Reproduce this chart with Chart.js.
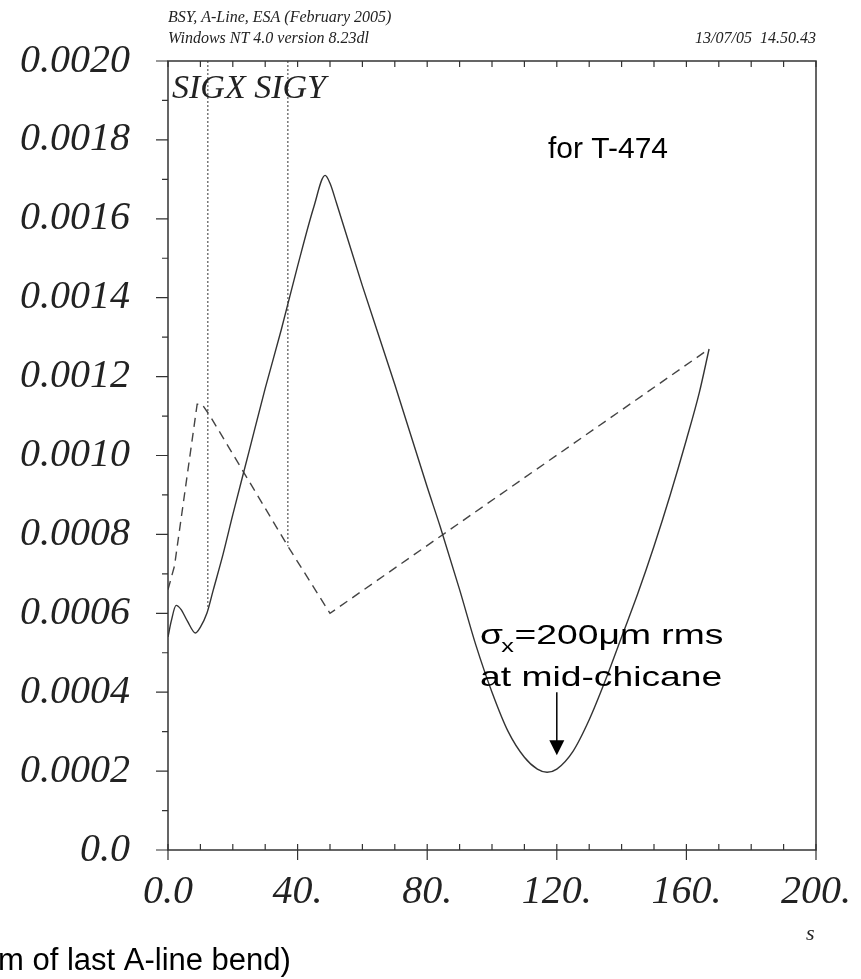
<!DOCTYPE html>
<html>
<head>
<meta charset="utf-8">
<script src="https://cdn.jsdelivr.net/npm/chart.js@4"></script>
<style>
  html, body { margin: 0; padding: 0; background: #fff; }
  #wrap { width: 861px; height: 979px; }
</style>
</head>
<body>
<div id="wrap"><canvas id="myChart" width="861" height="979"></canvas></div>
<script>
// SIGX (solid) and SIGY (dashed) vs s
const sigxS = [0, 1, 2.5, 4, 6, 8.5, 10, 12, 14, 17, 20, 25, 30, 35, 40, 45, 48.5, 50, 52, 60, 70, 80, 84, 90, 95, 100, 105, 110, 114, 117, 120, 125, 130, 135, 140, 145, 150, 155, 160, 164, 167];
const sigxV = [0.00054, 0.00058, 0.00062, 0.00061, 0.00058, 0.00055, 0.000565, 0.0006, 0.00066, 0.00075, 0.00085, 0.00101, 0.00117, 0.00132, 0.00148, 0.00163, 0.00171, 0.00169, 0.00164, 0.00143, 0.00118, 0.00092, 0.00082, 0.00066, 0.00052, 0.0004, 0.0003, 0.000235, 0.000205, 0.000197, 0.000205, 0.00025, 0.00033, 0.00043, 0.00054, 0.00065, 0.00077, 0.0009, 0.00104, 0.00116, 0.00127];

const sigyS = [0, 2, 9, 10.5, 13, 37, 50, 167];
const sigyV = [0.00066, 0.00072, 0.00113, 0.00113, 0.0011, 0.00077, 0.0006, 0.00127];

// vertical marker lines under the SIGX / SIGY labels
const markS = [12.3, 37];
const markV = [0.00061, 0.00077];

const yTicks = ['0.0', '0.0002', '0.0004', '0.0006', '0.0008', '0.0010', '0.0012', '0.0014', '0.0016', '0.0018', '0.0020'];
const xTicks = ['0.0', '40.', '80.', '120.', '160.', '200.'];

const toPts = (xs, ys) => xs.map((x, i) => ({x: x, y: ys[i]}));

const framePlugin = {
  id: 'frame',
  afterDraw(chart) {
    const c = chart.ctx, a = chart.chartArea;
    const xs = chart.scales.x, ys = chart.scales.y;
    c.save();
    c.strokeStyle = '#333';
    c.lineWidth = 1.5;
    c.strokeRect(a.left, a.top, a.right - a.left, a.bottom - a.top);
    c.lineWidth = 1.2;
    c.beginPath();
    for (let i = 0; i <= 20; i++) {
      const py = ys.getPixelForValue(i * 0.0001);
      const len = i % 2 === 0 ? 12 : 6;
      c.moveTo(a.left - len, py); c.lineTo(a.left, py);
    }
    for (let i = 0; i <= 20; i++) {
      const px = xs.getPixelForValue(i * 10);
      c.moveTo(px, a.top); c.lineTo(px, a.top + 6);
      c.moveTo(px, a.bottom); c.lineTo(px, a.bottom - 6);
      if (i % 4 === 0) { c.moveTo(px, a.bottom); c.lineTo(px, a.bottom + 10); }
    }
    c.stroke();

    // header
    c.fillStyle = '#222';
    c.font = 'italic 16px "Liberation Serif"';
    c.textBaseline = 'alphabetic';
    c.textAlign = 'left';
    c.fillText('BSY, A-Line, ESA (February 2005)', a.left, 22);
    c.fillText('Windows NT 4.0 version 8.23dl', a.left, 43);
    c.textAlign = 'right';
    c.fillText('13/07/05  14.50.43', a.right, 43);

    // curve labels
    c.textAlign = 'left';
    c.font = 'italic 34px "Liberation Serif"';
    c.fillText('SIGX SIGY', a.left + 4, a.top + 37);

    c.fillStyle = '#000';
    c.font = '30px "Liberation Sans"';
    c.fillText('for T-474', 548, 158);

    // annotation (text is wide in the original)
    c.save();
    c.translate(480, 0);
    c.scale(1.33, 1);
    c.textAlign = 'left';
    c.font = '28px "Liberation Sans"';
    c.fillText('\u03c3', 0, 644);
    c.font = '19px "Liberation Sans"';
    c.fillText('x', 16, 652);
    c.font = '28px "Liberation Sans"';
    c.fillText('=200\u03bcm rms', 26, 644);
    c.fillText('at mid-chicane', 0, 686);
    c.restore();

    const ax = xs.getPixelForValue(120);
    const y0 = ys.getPixelForValue(0.00040), y1 = ys.getPixelForValue(0.00024);
    c.strokeStyle = '#000';
    c.lineWidth = 1.5;
    c.beginPath(); c.moveTo(ax, y0); c.lineTo(ax, y1 - 14); c.stroke();
    c.beginPath();
    c.moveTo(ax - 7.5, y1 - 15); c.lineTo(ax + 7.5, y1 - 15); c.lineTo(ax, y1); c.closePath();
    c.fill();

    // axis title and caption
    c.fillStyle = '#222';
    c.font = 'italic 22px "Liberation Serif"';
    c.fillText('s', a.right - 10, 940);
    c.fillStyle = '#000';
    c.font = '31px "Liberation Sans"';
    c.textAlign = 'left';
    c.fillText('m of last A-line bend)', -2, 970);
    c.restore();
  }
};

const config = {
  type: 'scatter',
  data: {
    datasets: [
      {
        label: 'SIGX',
        data: toPts(sigxS, sigxV),
        showLine: true,
        borderColor: '#333',
        borderWidth: 1.4,
        pointRadius: 0,
        cubicInterpolationMode: 'monotone'
      },
      {
        label: 'SIGY',
        data: toPts(sigyS, sigyV),
        showLine: true,
        borderColor: '#444',
        borderWidth: 1.4,
        borderDash: [9, 6],
        pointRadius: 0,
        tension: 0
      },
      {
        label: 'mark1',
        data: [{x: markS[0], y: 0.002}, {x: markS[0], y: markV[0]}],
        showLine: true,
        borderColor: '#333',
        borderWidth: 1,
        borderDash: [2, 2],
        pointRadius: 0
      },
      {
        label: 'mark2',
        data: [{x: markS[1], y: 0.002}, {x: markS[1], y: markV[1]}],
        showLine: true,
        borderColor: '#333',
        borderWidth: 1,
        borderDash: [2, 2],
        pointRadius: 0
      }
    ]
  },
  options: {
    responsive: false,
    animation: false,
    layout: { padding: { left: 0, top: 61, right: 45, bottom: 0 } },
    plugins: { legend: { display: false }, tooltip: { enabled: false } },
    scales: {
      x: {
        type: 'linear', min: 0, max: 200,
        grid: { display: false },
        border: { display: false },
        afterFit: (s) => { s.height = 129; },
        ticks: {
          stepSize: 40, padding: 10, color: '#222', maxRotation: 0,
          font: { family: 'Liberation Serif', size: 40, style: 'italic' },
          callback: (v) => xTicks[Math.round(v / 40)]
        }
      },
      y: {
        type: 'linear', min: 0, max: 0.002,
        grid: { display: false },
        border: { display: false },
        afterFit: (s) => { s.width = 168; },
        ticks: {
          stepSize: 0.0002, padding: 30, color: '#222',
          font: { family: 'Liberation Serif', size: 40, style: 'italic' },
          callback: (v) => yTicks[Math.round(v / 0.0002)]
        }
      }
    }
  },
  plugins: [framePlugin]
};

var myChart = new Chart(document.getElementById('myChart').getContext('2d'), config);
</script>
</body>
</html>
